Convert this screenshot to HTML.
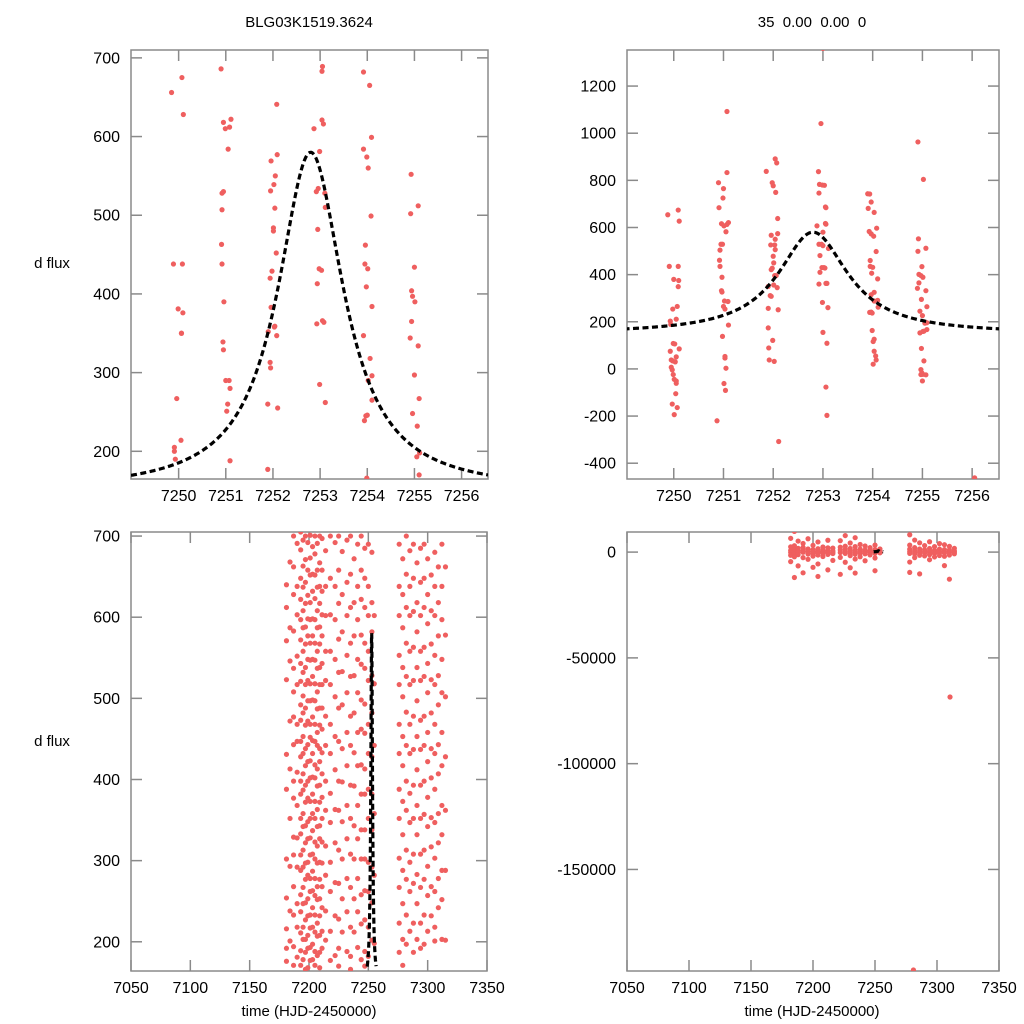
<!DOCTYPE html>
<html><head><meta charset="utf-8">
<style>
html,body{margin:0;padding:0;background:#fff;}
svg{display:block;font-family:"Liberation Sans",sans-serif;}
</style></head>
<body>
<svg id="chart" width="1024" height="1024" viewBox="0 0 1024 1024">
<text x="309" y="27" text-anchor="middle" font-size="15">BLG03K1519.3624</text>
<text x="812" y="27" text-anchor="middle" font-size="15" xml:space="preserve">35  0.00  0.00  0</text>
<text x="52" y="268" text-anchor="middle" font-size="15">d flux</text>
<text x="52" y="746" text-anchor="middle" font-size="15">d flux</text>
<text x="309" y="1016" text-anchor="middle" font-size="15">time (HJD-2450000)</text>
<text x="812" y="1016" text-anchor="middle" font-size="15">time (HJD-2450000)</text>
</svg>
<script>
// ---- model parameters (fit curve) ----
const modelT0 = 7252.8, modelBase = 149, modelAmp = 431, modelWidth = 0.85;

// ---- top-left data ----
const tlTimes = [7249.85,7250.07,7250.10,7249.89,7250.08,7249.99,7250.09,7250.06,7250.06,7249.96,7250.05,7249.91,7249.91,7249.93,
7250.90,7250.95,7251.11,7250.99,7251.08,7251.05,7250.95,7250.92,7250.92,7250.91,7250.92,7250.96,7250.94,7250.95,7251.00,7251.07,7251.09,7251.04,7251.02,7251.09,
7252.08,7252.09,7251.96,7252.05,7252.02,7251.95,7252.04,7252.01,7252.01,7252.07,7251.98,7251.94,7251.96,7252.04,7252.03,7251.90,7252.08,7251.94,7251.95,7251.89,7252.10,7251.89,
7253.05,7253.04,7253.04,7253.07,7252.87,7252.99,7252.96,7252.92,7253.10,7253.11,7252.95,7252.98,7253.03,7252.94,7253.05,7253.08,7252.93,7252.99,7253.11,
7253.92,7254.05,7254.09,7253.92,7253.99,7254.02,7254.08,7253.96,7253.95,7254.01,7253.98,7254.10,7253.92,7254.06,7254.10,7254.02,7254.10,7254.00,7253.97,7253.94,7253.99,
7254.93,7255.08,7254.92,7255.00,7254.94,7254.96,7255.01,7254.94,7254.91,7255.08,7255.00,7255.10,7254.96,7255.06,7255.11,7255.05,7255.10];
const tlFlux = [656,675,628,438,438,381,376,350,350,267,214,205,200,190,
686,618,622,610,612,584,530,528,507,463,438,390,339,329,290,290,280,260,251,188,
641,577,569,550,539,531,509,484,480,452,429,420,383,359,358,352,347,313,306,260,255,177,
689,683,621,616,610,581,534,530,528,510,482,432,430,413,366,364,362,285,262,
682,665,599,584,574,560,499,462,438,432,409,384,347,318,296,290,265,246,245,239,166,
552,512,502,434,404,397,390,365,344,334,297,267,248,232,198,193,170];

// ---- top-right data ----
const trTimes = [7249.88,7250.09,7250.11,7249.91,7250.09,7250.00,7250.10,7250.09,7250.07,7249.98,7249.93,7250.05,7249.94,7249.99,7250.02,7250.11,7249.93,7249.95,7249.98,7250.03,7250.05,7249.95,7249.97,7249.99,7250.01,7250.05,7250.05,7250.04,7249.97,7250.07,7250.01,
7251.07,7251.07,7250.90,7251.00,7250.99,7250.91,7250.96,7251.01,7251.10,7251.07,7251.05,7250.95,7250.98,7250.93,7250.92,7250.93,7250.97,7250.96,7250.97,7251.02,7251.09,7251.00,7251.03,7251.10,7250.98,7251.03,7251.03,7251.05,7251.01,7251.04,7250.87,
7252.04,7252.07,7251.86,7251.98,7252.00,7252.05,7252.09,7251.96,7252.09,7252.04,7251.95,7252.03,7252.04,7252.00,7252.01,7251.98,7251.96,7252.03,7252.06,7251.90,7252.08,7252.01,7251.94,7251.96,7251.90,7252.10,7251.90,7251.99,7251.91,7251.92,7252.02,7252.11,
7253.00,7252.96,7252.91,7252.92,7252.93,7252.99,7253.03,7253.05,7253.06,7252.88,7253.05,7253.06,7253.00,7252.92,7252.97,7253.00,7253.11,7252.94,7253.02,7252.98,7253.04,7252.94,7252.92,7253.06,7253.08,7252.99,7253.10,7253.00,7253.08,7253.06,7253.08,
7253.90,7253.94,7253.97,7253.91,7254.03,7254.08,7253.93,7253.97,7254.02,7254.07,7253.95,7253.95,7254.00,7253.98,7254.10,7254.03,7253.97,7254.03,7254.10,7254.11,7253.97,7253.94,7253.99,7253.99,7254.03,7254.01,7254.03,7254.06,7254.07,7254.01,
7254.91,7255.02,7254.92,7255.07,7254.91,7254.99,7254.93,7254.97,7255.01,7254.93,7254.90,7255.07,7254.98,7255.09,7254.95,7255.00,7255.05,7255.09,7255.09,7254.95,7255.01,7255.03,7254.98,7255.03,7254.97,7254.99,7255.01,7254.97,7255.07,7255.00,
7256.05];
const trFlux = [654,674,627,435,435,380,375,349,265,254,203,211,189,108,106,85,75,38,34,30,51,7,-4,-24,-44,-51,-61,-105,-149,-164,-194,
1092,833,790,765,725,684,616,607,621,613,582,529,529,504,461,435,389,332,326,288,286,265,254,186,138,53,46,3,-62,-91,-220,
891,874,838,790,777,749,638,567,574,550,526,526,506,478,450,427,421,396,396,350,345,356,311,308,257,251,174,121,89,38,32,-308,
1360,1041,837,746,783,780,779,687,684,607,617,614,580,529,529,523,511,481,430,430,428,410,360,363,363,282,260,155,109,-77,-197,
743,742,708,681,664,597,583,573,563,498,460,435,431,406,382,325,315,288,291,262,241,240,237,163,126,116,75,55,38,20,
963,804,552,512,499,434,401,396,389,365,342,332,295,264,245,226,194,196,167,153,159,160,87,34,-3,-17,-23,-24,-25,-51,
-462];

// ---- bottom-left data (full season) ----
const blNights = [7181,7184,7187,7190,7193,7195,7197,7199,7201,7203,7205,7207,7209,7211,7214,7218,7222,7225,7228,7232,7235,7238,7241,7244,7247,7250,7253,7255,7276,7279,7282,7285,7288,7291,7294,7297,7300,7303,7306,7309,7312,7315];
const blFlux = [
[640,612,571,523,431,388,302,254,216,192,176],
[668,587,546,472,413,352,293,238,201],
[700,662,628,583,537,508,477,443,398,377,329,307,268,233,194,171],
[691,638,603,552,517,468,447,409,368,328,292,247,218,181],
[705,683,648,622,597,572,543,521,492,473,447,428,398,382,352,333,307,288,258,237,211,189,171],
[695,663,637,608,587,558,532,503,482,453,432,407,387,358,342,313,292,267,247,218,203,178],
[700,671,643,617,588,567,538,517,488,467,438,417,393,372,343,322,297,277,248,227,203,187,166],
[692,658,627,598,577,548,522,497,472,443,422,398,377,348,327,298,282,253,232,208,192,168],
[701,673,652,618,597,568,547,518,497,468,452,423,402,373,352,328,307,278,262,233,217,193,177],
[687,653,632,598,577,548,527,498,477,448,432,403,382,358,337,308,287,263,242,218,197,178],
[700,678,652,623,597,568,547,518,497,468,447,418,402,373,352,323,302,278,257,233,212,188,171],
[691,658,637,608,587,558,537,508,487,458,442,413,392,363,342,318,297,268,252,223,207,183],
[700,667,638,617,588,567,538,517,488,467,438,422,393,372,343,327,298,277,253,232,208,187,168],
[697,658,632,603,577,543,517,488,462,433,407,378,352,323,297,268,242,213,192],
[682,638,602,558,522,478,442,398,362,318,282,238,202],
[700,648,603,558,517,468,432,383,347,298,262,213,177],
[692,638,597,548,502,453,412,363,322,273,232,183],
[700,658,617,573,532,488,447,398,362,313,272,228,192,170],
[681,628,582,533,492,438,397,348,302,253,212],
[695,643,602,553,507,458,417,368,327,278,237,188],
[700,653,612,568,527,478,442,393,352,308,267,218,182,166],
[672,618,577,528,482,433,392,343,302,253,212],
[690,638,597,548,507,458,417,368,327,278,237,193],
[700,658,622,578,542,498,462,418,382,338,302,258,222,178],
[685,648,612,568,537,493,457,413,382,338,302,263,227,188,170],
[690,638,602,558,522,468,432,388,352,298,262,218,182],
[680,618,582,528,482,428,382,338,292,248,202],
[602,518,442,358,282,198],
[690,638,602,553,517,468,432,388,352,303,267,223,187],
[672,628,587,538,502,453,417,373,332,288,247,203,171],
[700,653,612,568,527,483,442,398,362,313,277,233,197],
[682,638,602,558,517,468,432,383,347,298,262,213],
[690,648,607,563,522,478,437,393,352,308,272,223,187],
[667,618,582,538,497,453,412,368,332,283,247,203],
[685,643,602,558,522,473,437,393,352,308,267,223,192],
[690,648,612,563,527,478,442,398,357,313,277,233,197],
[672,628,592,543,507,458,422,378,342,293,257,213],
[652,608,567,523,482,438,402,353,317,268,232],
[680,638,602,553,517,468,432,388,347,303,262,218,201],
[662,618,577,528,492,443,407,358,322,278,242],
[690,638,597,548,507,458,417,368,332,288,252,203],
[662,578,502,428,362,288,202]];

// ---- bottom-right data (full season, other normalisation) ----
const brNights = [7182,7185,7188,7192,7196,7200,7204,7208,7212,7216,7222,7226,7230,7234,7238,7242,7246,7250,7254,7278,7282,7286,7290,7294,7298,7302,7306,7310,7314];
const brFlux = [
[6500,2500,800,-200,-1500,-4500],
[9800,3000,1200,0,-800,-2200,-12000],
[5200,1800,500,-300,-1200,-6500],
[4100,2200,900,-100,-2600,-9800],
[6300,1500,300,-900,-3400],
[3200,1100,200,-600,-1900,-7200],
[4800,1600,400,-400,-1400,-5600,-11500],
[2400,900,100,-500,-2100],
[5600,2000,700,-300,-1100,-8400],
[1900,600,0,-700,-3900],
[5400,2300,1000,-200,-2500,-10500],
[7800,2800,1300,200,-600,-4800],
[4300,1700,500,-400,-1700,-7400],
[6800,2600,900,0,-1000,-3300,-9900],
[3600,1400,300,-500,-2200],
[2900,1000,100,-800,-4100],
[2100,700,-100,-1300],
[3300,1200,200,-600,-2800,-8800],
[1500,400,-300],
[8200,3300,1400,300,-600,-4700,-9600],
[5700,2100,800,0,-900,-2600],
[4400,1500,500,-300,-1500,-10300],
[3100,1100,200,-500,-1800],
[4900,1700,600,-200,-1200,-3600],
[2600,900,100,-700,-2300],
[4000,1400,400,-400,-1600],
[3500,1200,300,-500,-2000,-6400],
[2700,1000,200,-300,-1400,-12800],
[1800,600,0,-800]];
const brOutlierTimes = [7310.5, 7281];
const brOutlierFlux = [-68500, -197500];

// ---- tick labels ----
const tlXTicks = [7250,7251,7252,7253,7254,7255,7256];
const tlYTicks = [200,300,400,500,600,700];
const trYTicks = [-400,-200,0,200,400,600,800,1000,1200];
const bXTicks = [7050,7100,7150,7200,7250,7300,7350];
const blYTicks = [200,300,400,500,600,700];
const brYTicks = [-150000,-100000,-50000,0];

const NS = 'http://www.w3.org/2000/svg';
const svg = document.getElementById('chart');
function mk(tag, attrs, parent){
  const e = document.createElementNS(NS, tag);
  for (const k in attrs) e.setAttribute(k, attrs[k]);
  (parent || svg).appendChild(e);
  return e;
}
function model(t){ const d=(t-modelT0)/modelWidth; return modelBase + modelAmp/(1+d*d); }

const panels = [
 {id:'tl', L:131, R:488, T:50, B:479, x0:7248.99, x1:7256.56, y0:164.8, y1:710, xt:tlXTicks, yt:tlYTicks},
 {id:'tr', L:627, R:999, T:50, B:479, x0:7249.06, x1:7256.54, y0:-467, y1:1353, xt:tlXTicks, yt:trYTicks},
 {id:'bl', L:131, R:487, T:532, B:971, x0:7050, x1:7350, y0:164, y1:705, xt:bXTicks, yt:blYTicks},
 {id:'br', L:627, R:999, T:532, B:971, x0:7050, x1:7350, y0:-198000, y1:9500, xt:bXTicks, yt:brYTicks}
];
panels.forEach(p=>{
  p.sx = v => p.L + (v-p.x0)/(p.x1-p.x0)*(p.R-p.L);
  p.sy = v => p.B - (v-p.y0)/(p.y1-p.y0)*(p.B-p.T);
});

function drawPanel(p, times, flux){
  const g = mk('g', {});
  
  
  const cp = mk('clipPath', {id:'clip-'+p.id}, g);
  mk('rect', {x:p.L, y:p.T, width:p.R-p.L, height:p.B-p.T}, cp);
  const frame = mk('rect', {x:p.L, y:p.T, width:p.R-p.L, height:p.B-p.T, fill:'none', stroke:'#8a8a8a', 'stroke-width':1.5}, g);
  
  
  p.xt.forEach(v=>{
    const x = p.sx(v);
    if (x < p.L-1 || x > p.R+1) return;
    mk('line', {x1:x, x2:x, y1:p.B, y2:p.B-11, stroke:'#8a8a8a', 'stroke-width':1.5}, g);
    mk('line', {x1:x, x2:x, y1:p.T, y2:p.T+11, stroke:'#8a8a8a', 'stroke-width':1.5}, g);
    const t = mk('text', {x:x, y:p.B+22, 'text-anchor':'middle', 'font-size':16}, g);
    
    
    t.textContent = v;
  });
  p.yt.forEach(v=>{
    const y = p.sy(v);
    mk('line', {x1:p.L, x2:p.L+11, y1:y, y2:y, stroke:'#8a8a8a', 'stroke-width':1.5}, g);
    mk('line', {x1:p.R, x2:p.R-11, y1:y, y2:y, stroke:'#8a8a8a', 'stroke-width':1.5}, g);
    const t = mk('text', {x:p.L-11, y:y+5.5, 'text-anchor':'end', 'font-size':16}, g);
    
    
    t.textContent = v;
  });
  const pts = mk('g', {'clip-path':'url(#clip-'+p.id+')', fill:'#ef5f5f'}, g);
  
  
  for (let i=0;i<times.length;i++){
    const c = mk('circle', {cx:p.sx(times[i]), cy:p.sy(flux[i]), r:2.6}, pts);
    
    
  }
  let d = '';
  const n = 400;
  for (let i=0;i<=n;i++){
    const t = 7248.99 + (7256.56-7248.99)*i/n;
    d += (i?'L':'M') + p.sx(t).toFixed(2) + ',' + p.sy(model(t)).toFixed(2);
  }
  const path = mk('path', {d:d, fill:'none', stroke:'#000', 'stroke-width':3.2, 'stroke-dasharray':'6,3.5', 'clip-path':'url(#clip-'+p.id+')'}, g);
  
  
}

function flatten(nights, vals){
  const T=[], F=[];
  nights.forEach((t,i)=>vals[i].forEach(v=>{T.push(t);F.push(v);}));
  return [T,F];
}
drawPanel(panels[0], tlTimes, tlFlux);
drawPanel(panels[1], trTimes, trFlux);
const bl = flatten(blNights, blFlux);
drawPanel(panels[2], bl[0], bl[1]);
const br = flatten(brNights, brFlux);
drawPanel(panels[3], br[0].concat(brOutlierTimes), br[1].concat(brOutlierFlux));
</script>
</body></html>
